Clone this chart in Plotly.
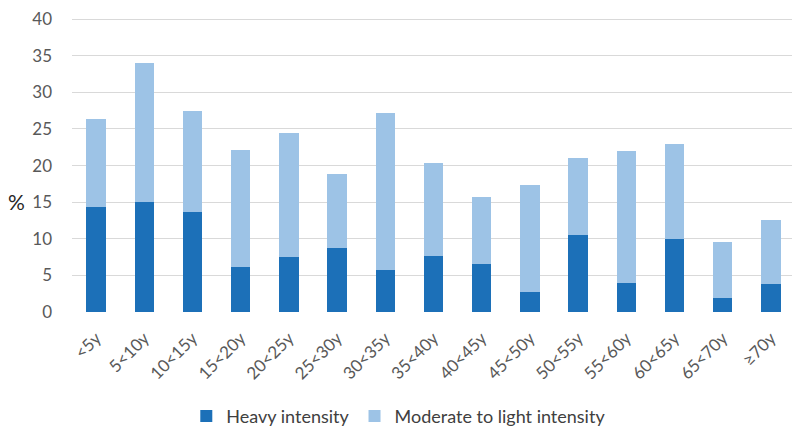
import plotly.graph_objects as go

categories = ["<5y", "5<10y", "10<15y", "15<20y", "20<25y", "25<30y", "30<35y", "35<40y",
              "40<45y", "45<50y", "50<55y", "55<60y", "60<65y", "65<70y", "≥70y"]
heavy = [14.4, 15.0, 13.7, 6.1, 7.5, 8.7, 5.8, 7.7, 6.6, 2.8, 10.5, 4.0, 10.0, 1.9, 3.8]
total = [26.3, 34.0, 27.4, 22.1, 24.5, 18.9, 27.2, 20.4, 15.7, 17.4, 21.0, 22.0, 23.0, 9.5, 12.6]
moderate = [round(t - h, 2) for t, h in zip(total, heavy)]
y_ticks = [0, 5, 10, 15, 20, 25, 30, 35, 40]

fig = go.Figure()
fig.add_trace(go.Bar(x=categories, y=heavy, name="Heavy intensity",
                     marker=dict(color="#1C70B8", line=dict(width=0))))
fig.add_trace(go.Bar(x=categories, y=moderate, name="Moderate to light intensity",
                     marker=dict(color="#9DC3E6", line=dict(width=0))))

font_family = "Lato, 'Open Sans', sans-serif"
# page body has an 8px margin, so the layout is shifted up/left by 8px
fig.update_layout(
    barmode="stack",
    bargap=0.6,
    width=800, height=428,
    margin=dict(l=64, r=13, t=10, b=124, autoexpand=False),
    plot_bgcolor="white", paper_bgcolor="white",
    font=dict(family=font_family, color="#595959"),
    showlegend=True,
    legend=dict(orientation="h", x=0.452, xanchor="center", y=-0.355, yanchor="middle",
                font=dict(size=18, color="#404040"), traceorder="normal"),
    xaxis=dict(tickangle=-45, tickfont=dict(size=17, color="#595959"),
               showgrid=False, showline=False, ticks="", automargin=False,
               ticklabelstandoff=12),
    yaxis=dict(range=[0, 40.15], tickvals=y_ticks, tickfont=dict(size=17, color="#595959"),
               showgrid=True, gridcolor="#D9D9D9", gridwidth=1, zeroline=False,
               ticks="", ticklabelstandoff=19, automargin=False,
               ticklabeloverflow="allow"),
    annotations=[dict(text="%", xref="paper", yref="paper", x=-0.077, y=0.375,
                      xanchor="center", yanchor="middle", showarrow=False,
                      font=dict(size=21, color="#262626"))],
)

fig.write_html("out.html")
